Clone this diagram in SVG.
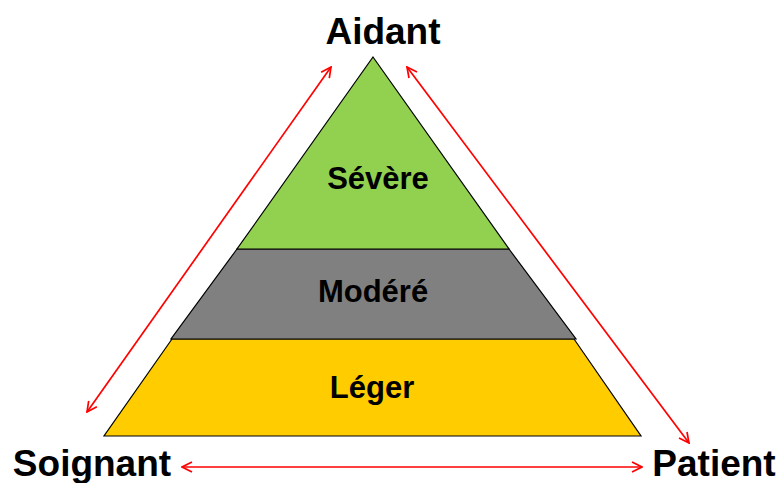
<svg xmlns="http://www.w3.org/2000/svg" width="782" height="483" viewBox="0 0 782 483">
<style>
.tier{stroke:#000;stroke-width:1.2;stroke-linejoin:miter}
.lbl{font-family:"Liberation Sans",Arial,sans-serif;font-weight:bold;fill:#000;text-anchor:middle}
.in{font-size:31px}
.out{font-size:37px}
.arr{stroke:#FF0000;stroke-width:1.7;fill:none;marker-start:url(#ah);marker-end:url(#ah)}
</style>
<defs>
<marker id="ah" viewBox="0 0 12 12" refX="11" refY="6" markerWidth="12" markerHeight="12" markerUnits="userSpaceOnUse" orient="auto-start-reverse">
<path d="M1,1 L11,6 L1,11" fill="none" stroke="#FF0000" stroke-width="1.7"/>
</marker>
</defs>
<rect width="782" height="483" fill="#fff"/>
<g id="leger">
<polygon class="tier" points="172,339 574,339 641,436 104,436" fill="#FFCC00"/>
<text class="lbl in" x="372" y="398">Léger</text>
</g>
<g id="modere">
<polygon class="tier" points="237,249 509,249 576,339 171,339" fill="#808080"/>
<text class="lbl in" x="373" y="302">Modéré</text>
</g>
<g id="severe">
<polygon class="tier" points="373,57 509,249 237,249" fill="#92D050"/>
<text class="lbl in" x="378" y="189">Sévère</text>
</g>
<g id="aidant"><text class="lbl out" x="383" y="44">Aidant</text></g>
<g id="soignant"><text class="lbl out" x="92" y="476">Soignant</text></g>
<g id="patient"><text class="lbl out" x="714" y="476">Patient</text></g>
<g id="connectors">
<line class="arr" x1="87" y1="412" x2="331" y2="67"/>
<line class="arr" x1="407" y1="67" x2="689" y2="443"/>
<line class="arr" x1="182" y1="467" x2="642" y2="467"/>
</g>
</svg>
